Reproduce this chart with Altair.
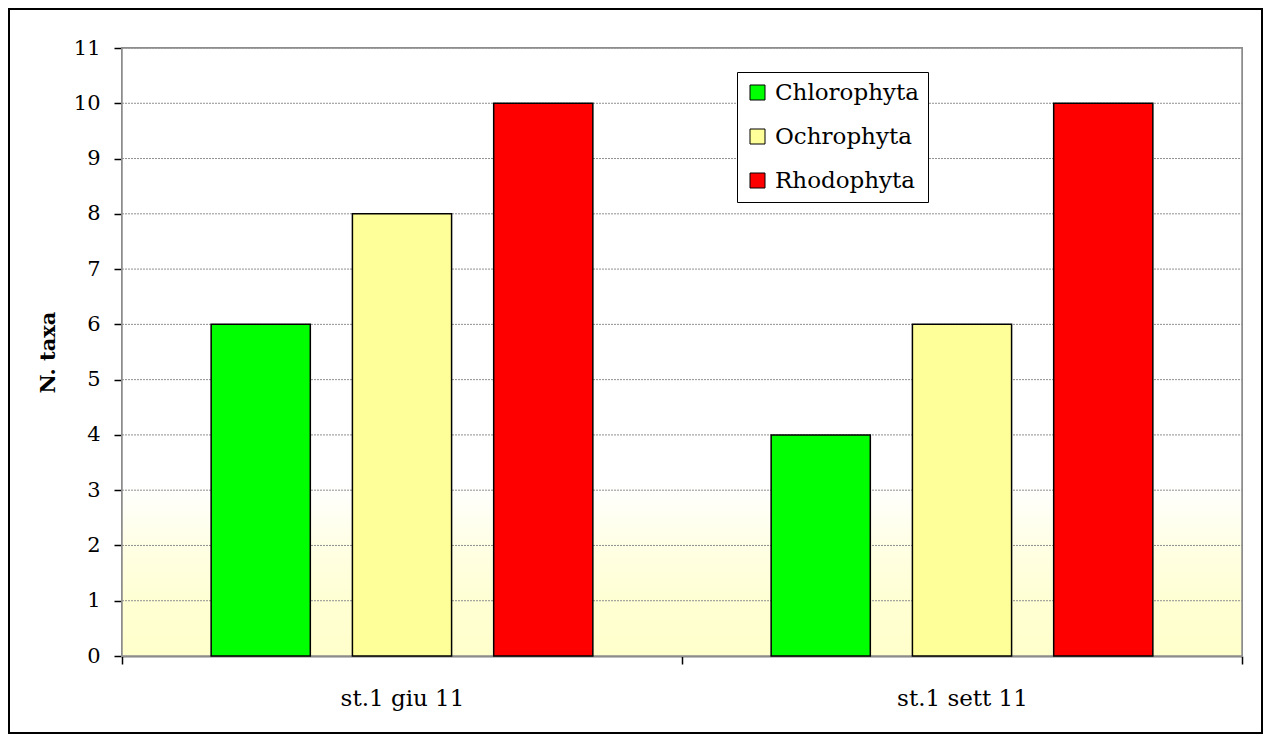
import altair as alt
import pandas as pd

stations = ["st.1 giu 11", "st.1 sett 11"]
phyla = ["Chlorophyta", "Ochrophyta", "Rhodophyta"]
giu_values = [6, 8, 10]
sett_values = [4, 6, 10]
y_ticks = list(range(0, 12))
colors = ["#00FF00", "#FFFF99", "#FF0000"]

rows = []
for st, vals in zip(stations, [giu_values, sett_values]):
    for ph, v in zip(phyla, vals):
        rows.append({"station": st, "phylum": ph, "value": v})
bars_df = pd.DataFrame(rows)
grid_df = pd.DataFrame({"tick": y_ticks[1:]})

W, H = 1120, 608
FONT = "DejaVu Serif"

y_scale = alt.Scale(domain=[0, 11], nice=False, zero=True)
y_axis = alt.Axis(
    values=y_ticks, grid=False, title="N. taxa",
    domainColor="black", domainWidth=1.5, tickColor="black", tickWidth=1.5,
    tickSize=8, labelFont=FONT, labelFontSize=21, labelColor="black",
    labelPadding=14, titleFont=FONT, titleFontSize=21, titleFontWeight="bold",
    titleColor="black", titlePadding=15,
)
x_axis = alt.Axis(
    title=None, tickBand="extent", labelAngle=0, domainColor="black",
    domainWidth=1.5, tickColor="black", tickWidth=1.5, tickSize=8,
    labelFont=FONT, labelFontSize=23, labelColor="black", labelPadding=23,
    grid=False,
)

base = alt.Chart(bars_df)

border = base.mark_rect(fill="transparent", stroke="black", strokeWidth=2).encode(
    x=alt.value(-113), x2=alt.value(W + 20), y=alt.value(-39), y2=alt.value(H + 77)
)

bg = base.mark_rect(
    color=alt.LinearGradient(
        gradient="linear", x1=0, x2=0, y1=0, y2=1,
        stops=[
            alt.GradientStop(offset=0, color="#FFFFFF"),
            alt.GradientStop(offset=0.72, color="#FFFFFF"),
            alt.GradientStop(offset=0.83, color="#FFFFE2"),
            alt.GradientStop(offset=0.92, color="#FFFFD2"),
            alt.GradientStop(offset=1, color="#FFFFCC"),
        ],
    ),
    stroke="#8c8c8c", strokeWidth=1.5,
).encode(x=alt.value(0), x2=alt.value(W), y=alt.value(0), y2=alt.value(H))

grid = alt.Chart(grid_df).mark_rule(color="#8f8f8f", strokeDash=[2, 1], strokeWidth=1).encode(
    y=alt.Y("tick:Q", scale=y_scale, axis=y_axis),
    x=alt.value(0), x2=alt.value(W),
)

bars = base.mark_bar(stroke="black", strokeWidth=1.5).encode(
    x=alt.X("station:N", sort=stations, scale=alt.Scale(paddingInner=0, paddingOuter=0), axis=x_axis),
    xOffset=alt.XOffset("phylum:N", sort=phyla, scale=alt.Scale(paddingInner=0.298, paddingOuter=0.631)),
    y=alt.Y("value:Q", scale=y_scale, axis=y_axis),
    color=alt.Color(
        "phylum:N", sort=phyla, scale=alt.Scale(domain=phyla, range=colors),
        legend=alt.Legend(
            title=None, orient="none", legendX=615, legendY=24,
            fillColor="white", strokeColor="black", padding=9,
            symbolType="square", symbolSize=225, symbolStrokeColor="black",
            symbolStrokeWidth=1, labelFont=FONT, labelFontSize=23,
            labelColor="black", rowPadding=20, labelOffset=6, labelLimit=400,
        ),
    ),
)

chart = alt.layer(border, bg, grid, bars).properties(
    width=W, height=H,
    autosize=alt.AutoSizeParams(type="none"),
    padding={"left": 114, "top": 40, "right": 21, "bottom": 78},
    background="white",
).configure_view(stroke=None)

chart.save("out.html", embed_options={"renderer": "svg", "actions": False})
